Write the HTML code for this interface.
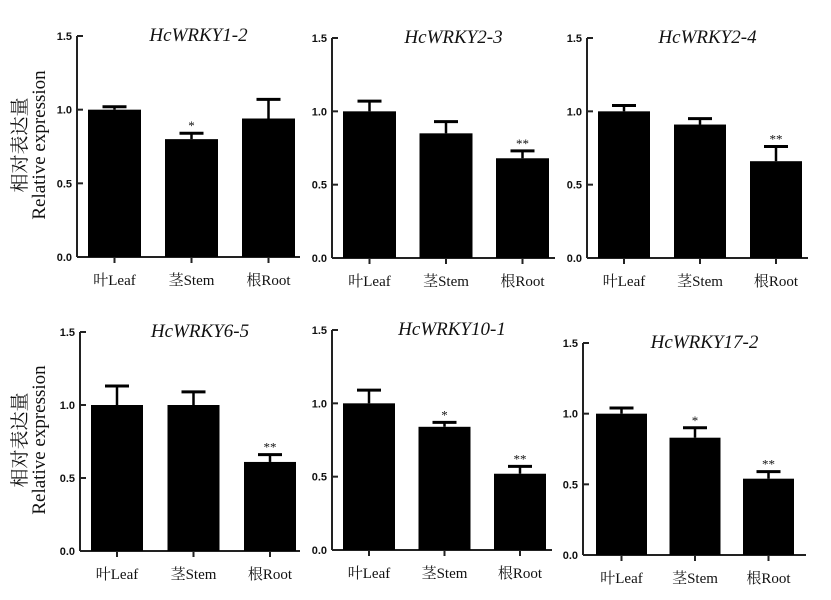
<!DOCTYPE html>
<html><head><meta charset="utf-8"><style>
body{margin:0;background:#fff;width:831px;height:600px;overflow:hidden}
svg{display:block}
text{font-family:"Liberation Serif","Noto Serif CJK SC",serif;fill:#111}
.tick{font-family:"Liberation Sans",sans-serif;font-weight:bold;font-size:11px}
</style></head><body>
<svg id="c" width="831" height="600"></svg>
<script>
const titles=["HcWRKY1-2","HcWRKY2-3","HcWRKY2-4","HcWRKY6-5","HcWRKY10-1","HcWRKY17-2"];
const categories=["叶Leaf","茎Stem","根Root"];
const values1=[1.0,0.80,0.94];const errors1=[0.02,0.04,0.13];const sig1=["","*",""];
const values2=[1.0,0.85,0.68];const errors2=[0.07,0.08,0.05];const sig2=["","","**"];
const values3=[1.0,0.91,0.66];const errors3=[0.04,0.04,0.10];const sig3=["","","**"];
const values4=[1.0,1.0,0.61];const errors4=[0.13,0.09,0.05];const sig4=["","","**"];
const values5=[1.0,0.84,0.52];const errors5=[0.09,0.03,0.05];const sig5=["","*","**"];
const values6=[1.0,0.83,0.54];const errors6=[0.04,0.07,0.05];const sig6=["","*","**"];
const yTicks=[0,0.5,1.0,1.5];
const tickLabels=["0.0","0.5","1.0","1.5"];
const allV=[values1,values2,values3,values4,values5,values6];
const allE=[errors1,errors2,errors3,errors4,errors5,errors6];
const allS=[sig1,sig2,sig3,sig4,sig5,sig6];
const layout=[
 {ax:77,top:36,bot:257,b0:88,step:77,bw:53,end:300},
 {ax:332,top:38,bot:258,b0:343,step:76.5,bw:53,end:555},
 {ax:587,top:38,bot:258,b0:598,step:76,bw:52,end:808},
 {ax:80,top:332,bot:551,b0:91,step:76.5,bw:52,end:300},
 {ax:332,top:330,bot:550,b0:343,step:75.5,bw:52,end:552},
 {ax:583,top:343,bot:555,b0:596,step:73.5,bw:51,end:806}];
const svg=document.getElementById('c');const NS="http://www.w3.org/2000/svg";
function mk(t,a,p){const e=document.createElementNS(NS,t);for(const k in a)e.setAttribute(k,a[k]);(p||svg).appendChild(e);return e;}
layout.forEach((L,i)=>{
 const g=mk('g',{});
 
 
 const y=v=>L.bot-(v/1.5)*(L.bot-L.top);
 const ax=mk('line',{x1:L.ax,y1:L.top,x2:L.ax,y2:L.bot,stroke:'#222','stroke-width':2},g);
 
 const xa=mk('line',{x1:L.ax,y1:L.bot,x2:L.end,y2:L.bot,stroke:'#222','stroke-width':2},g);
 
 yTicks.forEach((t,k)=>{
  mk('line',{x1:L.ax,y1:y(t),x2:L.ax+6,y2:y(t),stroke:'#222','stroke-width':2},g);
  const tl=mk('text',{x:L.ax-5,y:y(t)+4,'text-anchor':'end',class:'tick'},g);tl.textContent=tickLabels[k];
  
 });
 const tt=mk('text',{x:(L.ax+L.end)/2+10,y:L.top+5,'text-anchor':'middle','font-size':19,'font-style':'italic'},g);
 tt.textContent=titles[i];
 categories.forEach((c,j)=>{
  const v=allV[i][j],e=allE[i][j],x=L.b0+j*L.step,cx=x+L.bw/2;
  const r=mk('rect',{x:x,y:y(v),width:L.bw,height:L.bot-y(v),fill:'#000'},g);
  
  mk('line',{x1:cx,y1:y(v),x2:cx,y2:y(v+e),stroke:'#000','stroke-width':2.5},g);
  const cap=mk('line',{x1:cx-12,y1:y(v+e),x2:cx+12,y2:y(v+e),stroke:'#000','stroke-width':3},g);
  
  if(allS[i][j]){const s=mk('text',{x:cx,y:y(v+e)-3,'text-anchor':'middle','font-size':13,'font-family':'Liberation Sans'},g);s.textContent=allS[i][j];
   }
  mk('line',{x1:cx,y1:L.bot,x2:cx,y2:L.bot+6,stroke:'#222','stroke-width':2},g);
  const cl=mk('text',{x:cx,y:L.bot+28,'text-anchor':'middle','font-size':15},g);cl.textContent=c;
  
 });
});
[[145],[440]].forEach(([cy])=>{
 const t1=mk('text',{x:0,y:0,transform:`translate(26,${cy}) rotate(-90)`,'text-anchor':'middle','font-size':19});
 t1.textContent='相对表达量';
 const t2=mk('text',{x:0,y:0,transform:`translate(45,${cy}) rotate(-90)`,'text-anchor':'middle','font-size':19});
 t2.textContent='Relative expression';
});
</script>
</body></html>
